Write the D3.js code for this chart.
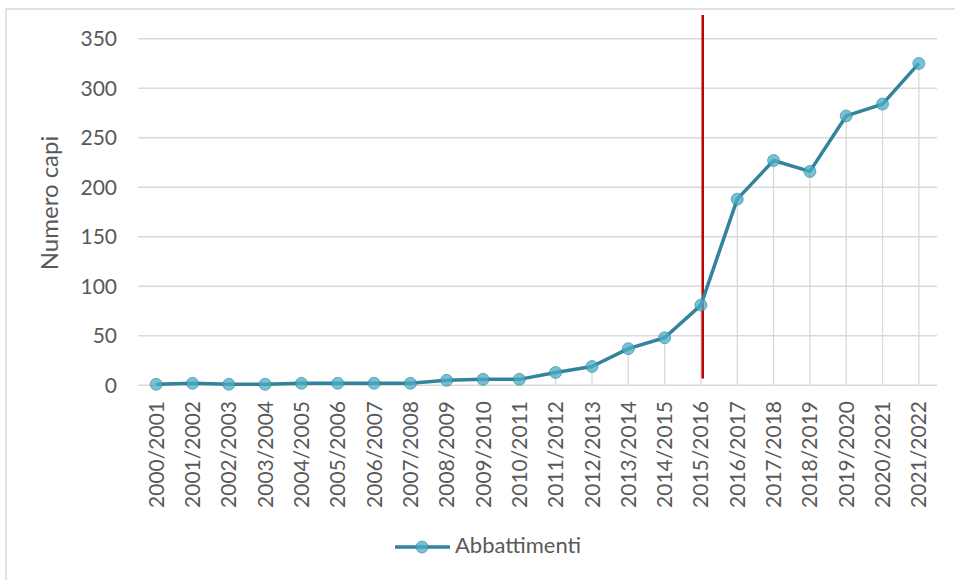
<!DOCTYPE html>
<html>
<head>
<meta charset="utf-8">
<script src="https://cdn.jsdelivr.net/npm/d3@7"></script>
<style>
  html, body { margin: 0; padding: 0; background: #fff; }
  svg { display: block; font-family: Lato, "Open Sans", sans-serif; }
</style>
</head>
<body>
<svg id="chart" width="955" height="580"></svg>
<script>
const categories = ["2000/2001","2001/2002","2002/2003","2003/2004","2004/2005","2005/2006","2006/2007","2007/2008","2008/2009","2009/2010","2010/2011","2011/2012","2012/2013","2013/2014","2014/2015","2015/2016","2016/2017","2017/2018","2018/2019","2019/2020","2020/2021","2021/2022"];
const abbattimenti = [1,2,1,1,2,2,2,2,5,6,6,13,19,37,48,81,188,227,216,272,284,325];
const yTicks = [0,50,100,150,200,250,300,350];
const seriesName = "Abbattimenti";
const yTitle = "Numero capi";
const markerCategory = "2015/2016";

const svg = d3.select("#chart");
const textColor = "#595959";
const gridColor = "#d9d9d9";
const lineColor = "#31849B";
const markerFill = "#4BACC6";

// chart border (top and left visible)
svg.append("path").attr("d", "M6,580 V9 H955").attr("fill","none").attr("stroke","#d9d9d9").attr("stroke-width",1.5);

const x = d3.scaleBand().domain(categories).range([138, 937]).padding(0);
const y = d3.scaleLinear().domain([0, 350]).range([385.3, 38.7]);
const cx = d => x(d) + x.bandwidth() / 2;

// horizontal gridlines
svg.append("g").selectAll("line").data(yTicks).join("line")
  .attr("x1", 138).attr("x2", 937)
  .attr("y1", d => y(d)).attr("y2", d => y(d))
  .attr("stroke", gridColor).attr("stroke-width", 1.5);

// y tick labels
svg.append("g").selectAll("text").data(yTicks).join("text")
  .attr("x", 117).attr("y", d => y(d)).attr("dy", "0.36em")
  .attr("text-anchor", "end").attr("fill", textColor)
  .style("font-size", "21px").text(d => d);

// y title
svg.append("text")
  .attr("transform", "translate(58,203) rotate(-90)")
  .attr("text-anchor", "middle").attr("fill", textColor)
  .style("font-size", "24px").text(yTitle);

// drop lines
svg.append("g").selectAll("line").data(categories).join("line")
  .attr("x1", d => cx(d)).attr("x2", d => cx(d))
  .attr("y1", (d, i) => y(abbattimenti[i])).attr("y2", y(0))
  .attr("stroke", gridColor).attr("stroke-width", 1.3);

// x tick labels (rotated)
svg.append("g").selectAll("text").data(categories).join("text")
  .attr("transform", d => `translate(${cx(d)},401) rotate(-90)`)
  .attr("dy", "0.36em").attr("text-anchor", "end")
  .attr("fill", textColor).style("font-size", "21px").text(d => d);

// red marker line
svg.append("line")
  .attr("x1", cx(markerCategory) + 1.8).attr("x2", cx(markerCategory) + 1.8)
  .attr("y1", 15).attr("y2", 378.5)
  .attr("stroke", "#C00000").attr("stroke-width", 2.5);

// series line
const line = d3.line().x((d, i) => cx(categories[i])).y(d => y(d));
svg.append("path").datum(abbattimenti)
  .attr("d", line).attr("fill", "none")
  .attr("stroke", lineColor).attr("stroke-width", 3.5).attr("stroke-linejoin", "round");

// markers
svg.append("g").selectAll("circle").data(abbattimenti).join("circle")
  .attr("cx", (d, i) => cx(categories[i])).attr("cy", d => y(d)).attr("r", 6)
  .attr("fill", markerFill).attr("fill-opacity", 0.75)
  .attr("stroke", lineColor).attr("stroke-opacity", 0.6).attr("stroke-width", 1);

// legend
const lg = svg.append("g");
lg.append("line").attr("x1", 395).attr("x2", 450).attr("y1", 547).attr("y2", 547)
  .attr("stroke", lineColor).attr("stroke-width", 3.5);
lg.append("circle").attr("cx", 422).attr("cy", 547).attr("r", 6)
  .attr("fill", markerFill).attr("fill-opacity", 0.75)
  .attr("stroke", lineColor).attr("stroke-opacity", 0.6);
lg.append("text").attr("x", 455).attr("y", 553)
  .attr("fill", textColor).style("font-size", "22px").text(seriesName);
</script>
</body>
</html>
